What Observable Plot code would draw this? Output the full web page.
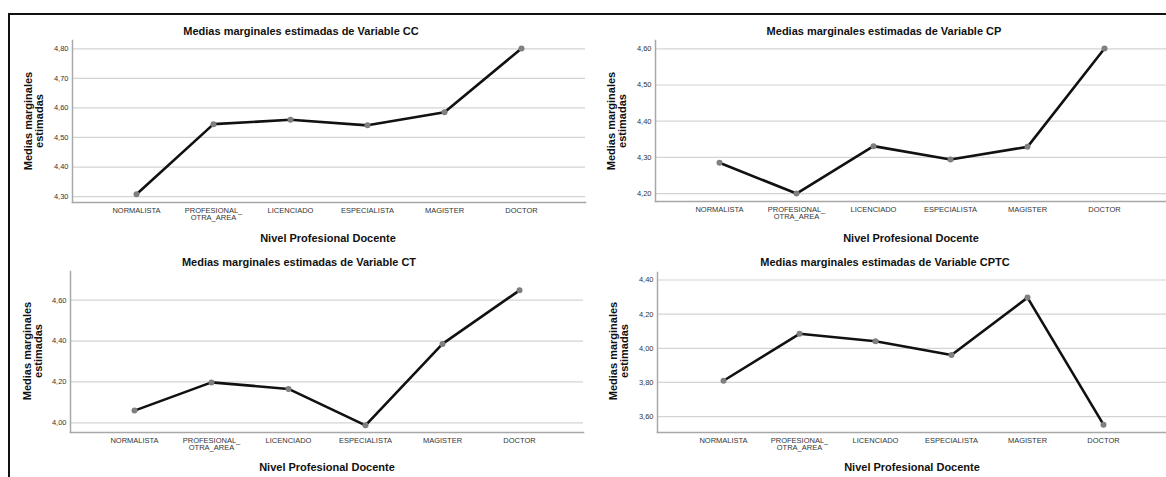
<!DOCTYPE html>
<html>
<head>
<meta charset="utf-8">
<script src="https://cdn.jsdelivr.net/npm/d3@7"></script>
<script src="https://cdn.jsdelivr.net/npm/@observablehq/plot@0.6"></script>
<style>
  html, body { margin: 0; padding: 0; background: #fff; overflow: hidden; }
  #root { position: relative; width: 1166px; height: 477px; font-family: "Liberation Sans", Arial, sans-serif; }
  .panel { position: absolute; }
  .lbl { position: absolute; transform: translate(-50%, -50%); white-space: nowrap; color: #111; font-weight: bold; font-size: 11px; }
  .ylbl { position: absolute; transform: translate(-50%, -50%) rotate(-90deg); white-space: nowrap; text-align: center; color: #111; font-weight: bold; font-size: 11px; line-height: 11px; }
  #frame { position: absolute; left: 8px; top: 13px; width: 1170px; height: 480px; border-top: 2px solid #111; border-left: 2px solid #111; }
</style>
</head>
<body>
<div id="root"><div id="frame"></div></div>
<script>
// ---- data ----
const categories = ["NORMALISTA", "PROFESIONAL_OTRA_AREA", "LICENCIADO", "ESPECIALISTA", "MAGISTER", "DOCTOR"];
const categoryLabels = ["NORMALISTA", "PROFESIONAL_\nOTRA_AREA", "LICENCIADO", "ESPECIALISTA", "MAGISTER", "DOCTOR"];

const valuesCC   = [4.308, 4.545, 4.560, 4.541, 4.585, 4.801];
const valuesCP   = [4.285, 4.200, 4.331, 4.294, 4.329, 4.601];
const valuesCT   = [4.060, 4.198, 4.166, 3.988, 4.386, 4.648];
const valuesCPTC = [3.810, 4.085, 4.041, 3.961, 4.297, 3.553];

const ticksCC   = [4.30, 4.40, 4.50, 4.60, 4.70, 4.80];
const ticksCP   = [4.20, 4.30, 4.40, 4.50, 4.60];
const ticksCT   = [4.00, 4.20, 4.40, 4.60];
const ticksCPTC = [3.60, 3.80, 4.00, 4.20, 4.40];

const domainCC   = [4.280, 4.828];
const domainCP   = [4.178, 4.623];
const domainCT   = [3.953, 4.740];
const domainCPTC = [3.507, 4.444];

const titles = [
  "Medias marginales estimadas de Variable CC",
  "Medias marginales estimadas de Variable CP",
  "Medias marginales estimadas de Variable CT",
  "Medias marginales estimadas de Variable CPTC"
];
const xTitle = "Nivel Profesional Docente";
const yTitleLines = ["Medias marginales", "estimadas"];

// ---- layout ----
const panels = [
  {values: valuesCC, ticks: ticksCC, domain: domainCC, title: titles[0],
   left: 0, top: 0, width: 586, height: 245, mt: 40, mb: 43, ml: 72, mr: 1,
   titleX: 301, titleY: 31, xTitleX: 328, xTitleY: 238, yLblX: 34, yLblY: 121},
  {values: valuesCP, ticks: ticksCP, domain: domainCP, title: titles[1],
   left: 583, top: 0, width: 585, height: 245, mt: 40, mb: 44, ml: 72, mr: 0,
   titleX: 884, titleY: 31, xTitleX: 911, xTitleY: 238, yLblX: 617, yLblY: 121},
  {values: valuesCT, ticks: ticksCT, domain: domainCT, title: titles[2],
   left: 0, top: 232, width: 584, height: 245, mt: 39, mb: 45, ml: 70, mr: 1,
   titleX: 299, titleY: 262, xTitleX: 327, xTitleY: 467, yLblX: 33, yLblY: 351},
  {values: valuesCPTC, ticks: ticksCPTC, domain: domainCPTC, title: titles[3],
   left: 583, top: 232, width: 585, height: 245, mt: 40, mb: 45, ml: 74, mr: 0,
   titleX: 885, titleY: 262, xTitleX: 912, xTitleY: 467, yLblX: 619, yLblY: 351}
];

const fmt = v => d3.format(".2f")(v).replace(".", ",");
const labelOf = new Map(categories.map((c, i) => [c, categoryLabels[i]]));
const root = document.getElementById("root");

for (const p of panels) {
  const data = categories.map((c, i) => ({cat: c, val: p.values[i]}));
  const chart = Plot.plot({
    width: p.width,
    height: p.height,
    marginTop: p.mt, marginBottom: p.mb, marginLeft: p.ml, marginRight: p.mr,
    style: {background: "transparent", fontFamily: "Liberation Sans, Arial, sans-serif", fontSize: "7.5px", overflow: "visible"},
    x: {type: "point", domain: categories, padding: 0.83},
    y: {domain: p.domain},
    marks: [
      Plot.gridY(p.ticks, {stroke: "#d4d4d4", strokeOpacity: 1, strokeWidth: 1.2}),
      Plot.frame({anchor: "left", stroke: "#a8a8a8", strokeWidth: 1.5}),
      Plot.frame({anchor: "bottom", stroke: "#a8a8a8", strokeWidth: 1.5}),
      Plot.axisY(p.ticks, {tickSize: 0, tickPadding: 4, tickFormat: fmt, fill: "#333", label: null}),
      Plot.axisX({tickSize: 0, tickPadding: 5, tickFormat: d => labelOf.get(d), fill: "#333", label: null}),
      Plot.line(data, {x: "cat", y: "val", stroke: "#111", strokeWidth: 2.6}),
      Plot.dot(data, {x: "cat", y: "val", r: 3, fill: "#7f7f7f"})
    ]
  });
  chart.classList.add("panel");
  chart.style.left = p.left + "px";
  chart.style.top = p.top + "px";
  root.appendChild(chart);

  const t = document.createElement("div");
  t.className = "lbl";
  t.textContent = p.title;
  t.style.left = p.titleX + "px"; t.style.top = p.titleY + "px";
  root.appendChild(t);

  const xt = document.createElement("div");
  xt.className = "lbl";
  xt.textContent = xTitle;
  xt.style.left = p.xTitleX + "px"; xt.style.top = p.xTitleY + "px";
  root.appendChild(xt);

  const yt = document.createElement("div");
  yt.className = "ylbl";
  yt.innerHTML = yTitleLines.join("<br>");
  yt.style.left = p.yLblX + "px"; yt.style.top = p.yLblY + "px";
  root.appendChild(yt);
}
</script>
</body>
</html>
